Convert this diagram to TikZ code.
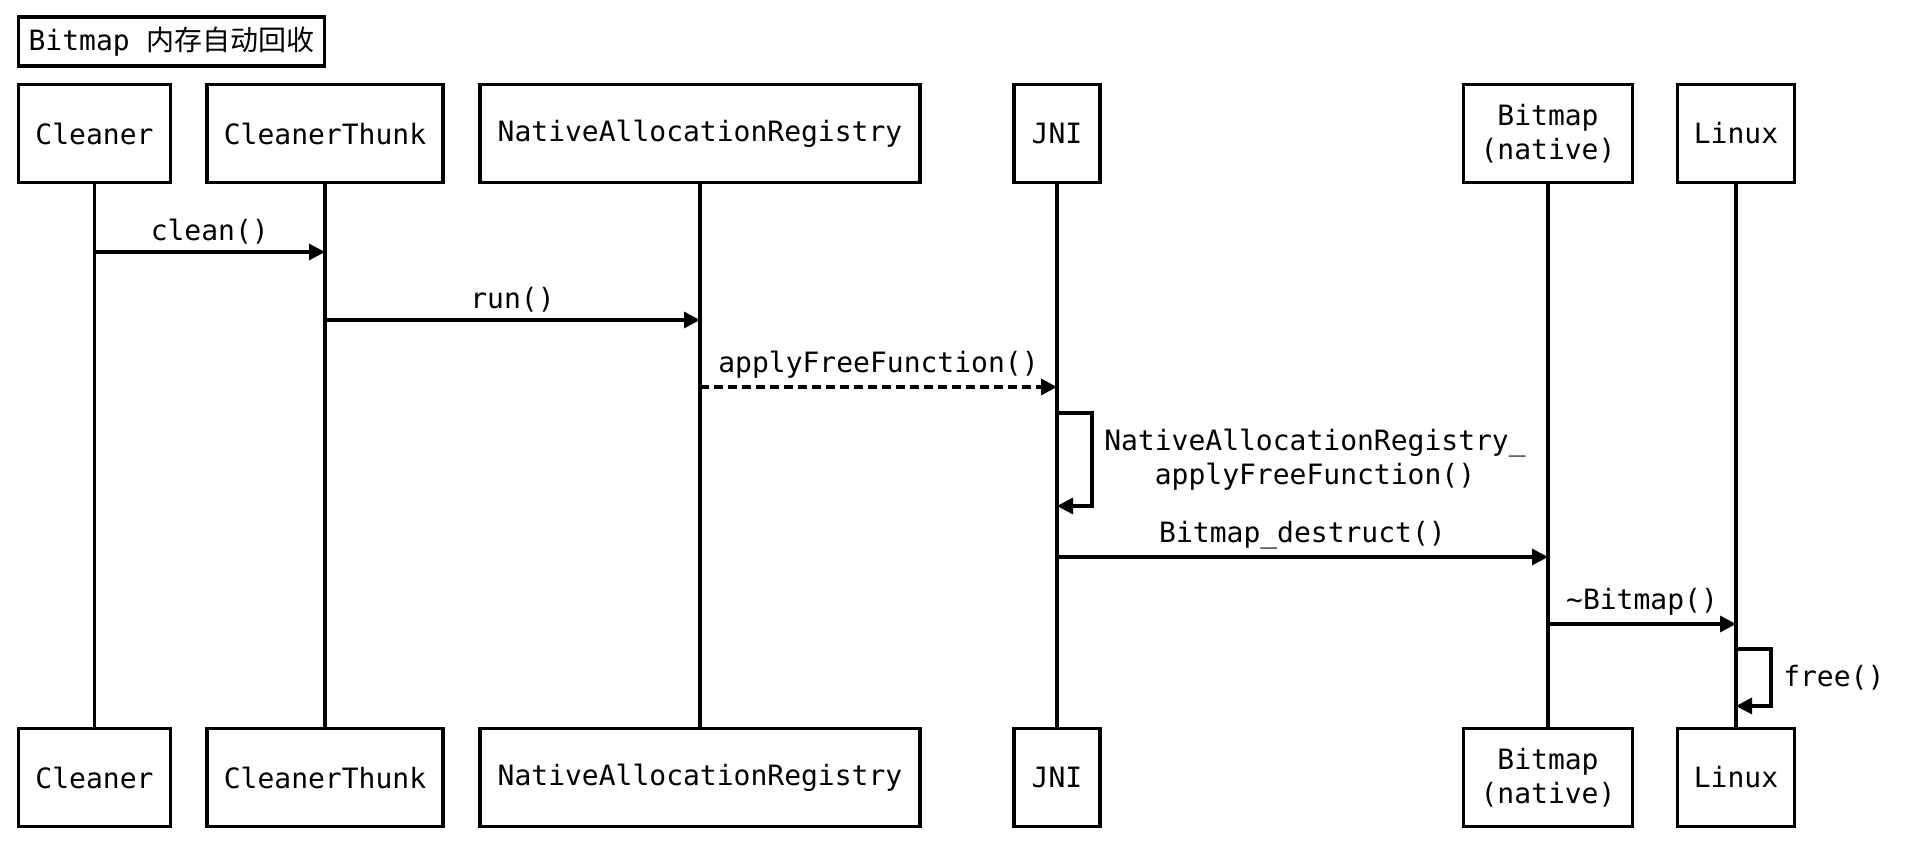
\documentclass[tikz,border=0pt]{standalone}
\usepackage{fontspec}
\setmainfont{DejaVu Sans Mono}
\newfontfamily\cjk{Noto Sans CJK SC}
\usetikzlibrary{arrows.meta}
\begin{document}
\begin{tikzpicture}[x=1pt,y=-1pt,
    every node/.style={font=\fontsize{14pt}{17pt}\selectfont}]
      \tikzstyle{actor} = [draw=black, line width=1.8pt, minimum height=49pt, inner sep=0pt, align=center]
      \tikzstyle{titlebox} = [draw=black, line width=1.6pt, minimum height=24.5pt, inner xsep=5pt, inner ysep=0pt, anchor=west]
      \tikzstyle{life} = [line width=1.6pt]
      \tikzstyle{msg} = [line width=1.6pt, -{Triangle[length=8pt,width=8pt]}]
      \useasboundingbox (0,0) rectangle (956.5,433);

      \node[titlebox] (title) at (8.5,20.75) {Bitmap {\cjk 内存自动回收}};

      % participants, top row
      \node[actor, minimum width=76pt] (cleaner) at (47.25,66.75) {Cleaner};
      \node[actor, minimum width=118pt] (thunk) at (162.5,66.75) {CleanerThunk};
      \node[actor, minimum width=220pt] (registry) at (350,66.75) {NativeAllocationRegistry};
      \node[actor, minimum width=43pt] (jni) at (528.5,66.75) {JNI};
      \node[actor, minimum width=84.5pt] (bitmap) at (774,66.75) {Bitmap\\(native)};
      \node[actor, minimum width=58.5pt] (linux) at (868,66.75) {Linux};

      % participants, bottom row
      \node[actor, minimum width=76pt] (cleanerB) at (47.25,388.75) {Cleaner};
      \node[actor, minimum width=118pt] (thunkB) at (162.5,388.75) {CleanerThunk};
      \node[actor, minimum width=220pt] (registryB) at (350,388.75) {NativeAllocationRegistry};
      \node[actor, minimum width=43pt] (jniB) at (528.5,388.75) {JNI};
      \node[actor, minimum width=84.5pt] (bitmapB) at (774,388.75) {Bitmap\\(native)};
      \node[actor, minimum width=58.5pt] (linuxB) at (868,388.75) {Linux};

      \draw[life] (cleaner) to (cleanerB);
      \draw[life] (thunk) to (thunkB);
      \draw[life] (registry) to (registryB);
      \draw[life] (jni) to (jniB);
      \draw[life] (bitmap) to (bitmapB);
      \draw[life] (linux) to (linuxB);

      \draw[msg] (cleaner |- 0,126) to node[above] {clean()} (thunk |- 0,126);
      \draw[msg] (thunk |- 0,160) to node[above] {run()} (registry |- 0,160);
      \draw[msg, dash pattern=on 4.5pt off 2.5pt] (registry |- 0,193.5) to node[above] {applyFreeFunction()} (jni |- 0,193.5);
      \draw[msg] (jni |- 0,206.5) -- (546,206.5)
        -- node[right=2pt, align=center] {NativeAllocationRegistry\_\\applyFreeFunction()} (546,253) -- (jni |- 0,253);
      \draw[msg] (jni |- 0,278.5) to node[above] {Bitmap\_destruct()} (bitmap |- 0,278.5);
      \draw[msg] (bitmap |- 0,312) to node[above] {\char`\~Bitmap()} (linux |- 0,312);
      \draw[msg] (linux |- 0,324.5) -- (885.5,324.5)
        -- node[right=2pt] {free()} (885.5,353) -- (linux |- 0,353);
    \end{tikzpicture}
\end{document}
